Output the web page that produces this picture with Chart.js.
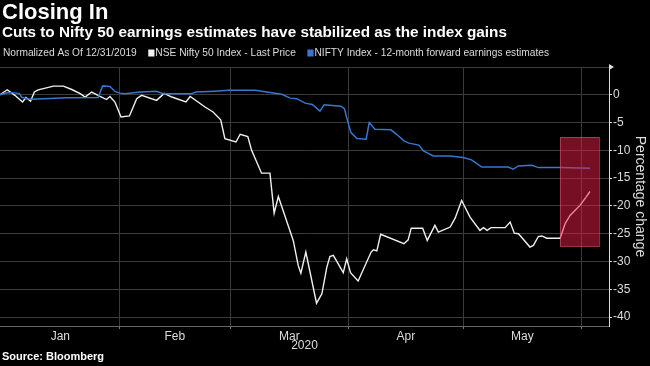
<!DOCTYPE html>
<html>
<head>
<meta charset="utf-8">
<script src="https://cdn.jsdelivr.net/npm/chart.js@4/dist/chart.umd.min.js"></script>
<style>
  html, body { margin: 0; padding: 0; background: #000; }
</style>
</head>
<body>
<canvas id="chart" width="650" height="366"></canvas>
<script>
// x values are days after 12/31/2019
const monthLabels = ["Jan", "Feb", "Mar", "Apr", "May"];
const monthMids = [16.5, 46.5, 76.5, 107, 137.5];
const monthStarts = [32, 61, 92, 122, 153];
const yTickValues = [5, 2.5, 0, -2.5, -5, -7.5, -10, -12.5, -15, -17.5, -20, -22.5, -25, -27.5, -30, -32.5, -35, -37.5, -40];

// NSE Nifty 50 Index - Last Price
const niftyDays = [0.7, 2.6, 4.6, 6.6, 7.5, 8.7, 9.7, 10.7, 14.7, 17.3, 19.5, 21.7, 23.0, 24.7, 26.9, 28.6, 29.5, 30.8,
  32.4, 34.6, 36.5, 37.8, 41.7, 43.7, 45.7, 49.4, 50.5, 54.4, 56.5, 58.5, 59.6, 62.5, 63.6, 65.6, 66.6, 69.2, 71.4,
  72.5, 73.6, 77.5, 78.8, 79.5, 80.8, 83.6, 85.0, 86.3, 87.1, 88.0, 90.6, 91.5, 92.5, 94.5, 97.9, 98.5, 99.4, 100.4,
  106.5, 107.6, 108.4, 111.4, 112.6, 114.6, 115.5, 118.6, 119.9, 121.6, 123.8, 126.4, 127.3, 128.3, 129.3, 133.0,
  134.3, 135.4, 136.5, 139.5, 140.4, 141.7, 142.6, 143.9, 147.4, 148.7, 150.0, 152.6, 154.1, 155.2];
const niftyValues = [0.0, 0.9, -0.1, -1.3, -0.5, -1.15, 0.5, 0.9, 1.55, 1.55, 0.95, 0.2, -0.4, 0.5, -0.3, -0.85, -0.3, -1.3,
  -4.0, -3.8, -0.7, -0.1, -1.0, 0.25, -0.4, -1.3, -0.3, -2.2, -3.1, -4.5, -7.9, -8.5, -7.1, -7.5, -10.0, -14.1, -14.1,
  -21.3, -18.3, -26.2, -30.7, -32.1, -28.3, -37.5, -35.8, -31.0, -29.1, -28.9, -32.0, -29.5, -32.0, -33.5, -28.3, -27.9, -28.1, -25.1,
  -26.8, -26.1, -24.0, -24.0, -26.2, -23.5, -24.7, -23.8, -22.2, -19.0, -22.0, -24.4, -23.9, -24.4, -23.9, -23.9,
  -22.9, -24.9, -25.0, -27.4, -27.1, -25.5, -25.4, -25.8, -25.8, -23.2, -21.7, -19.9, -18.5, -17.4];

// NIFTY Index - 12-month forward earnings estimates
const estDays = [0.7, 2.7, 5.1, 5.8, 6.4, 7.7, 9.0, 18.2, 26.4, 27.6, 29.5, 30.8, 32.1, 33.4, 37.4, 41.6, 43.5, 50.9,
  52.0, 57.0, 60.4, 67.5, 70.6, 74.5, 76.7, 78.4, 80.6, 82.5, 84.5, 85.6, 90.0, 90.9, 91.7, 92.6, 94.2, 96.6, 97.4,
  98.9, 103.1, 104.7, 106.5, 107.8, 110.4, 111.6, 114.2, 118.6, 122.0, 124.2, 125.6, 126.9, 133.8, 135.1, 136.4,
  140.0, 141.7, 147.4, 155.2];
const estValues = [0.0, 0.4, 0.3, 0.2, -0.45, -0.7, -0.8, -0.55, -0.5, 1.6, 1.5, 0.6, 0.3, 0.2, 0.5, 0.65, 0.2, 0.2,
  0.5, 0.65, 0.8, 0.8, 0.5, 0.1, -0.6, -0.7, -1.5, -1.75, -2.95, -1.8, -2.05, -2.5, -4.6, -6.8, -7.85, -8.0, -5.0,
  -6.2, -6.3, -7.2, -8.3, -8.7, -9.05, -10.1, -11.0, -11.0, -11.3, -11.7, -12.4, -13.0, -13.0, -13.4, -12.8,
  -12.7, -13.1, -13.1, -13.2];

// highlighted window at the right
const highlightDays = [147.4, 157.6];
const highlightValues = [-7.6, -27.3];

const GRID = "#3a3a3a";
const TEXT = "#dcdcdc";
const BLUE = "#3777cf";

function toPoints(xs, ys) {
  return xs.map((x, i) => ({ x: x, y: ys[i] }));
}

const framePlugin = {
  id: "frame",
  beforeDraw(chart) {
    const ctx = chart.ctx;
    ctx.save();
    ctx.fillStyle = "#000";
    ctx.fillRect(0, 0, chart.width, chart.height);
    ctx.restore();
  },
  afterDatasetsDraw(chart) {
    const ctx = chart.ctx;
    const xs = chart.scales.x, ys = chart.scales.y;
    const x0 = xs.getPixelForValue(highlightDays[0]);
    const x1 = xs.getPixelForValue(highlightDays[1]);
    const y0 = ys.getPixelForValue(highlightValues[0]);
    const y1 = ys.getPixelForValue(highlightValues[1]);
    ctx.save();
    ctx.fillStyle = "rgba(235, 30, 70, 0.5)";
    ctx.fillRect(x0, y0, x1 - x0, y1 - y0);
    ctx.strokeStyle = "#f0607f";
    ctx.lineWidth = 1;
    ctx.setLineDash([1, 1]);
    ctx.strokeRect(Math.round(x0) + 0.5, Math.round(y0) + 0.5, Math.round(x1 - x0), Math.round(y1 - y0));
    ctx.restore();

    // small arrow at top of the value axis
    const a = chart.chartArea;
    ctx.save();
    ctx.fillStyle = TEXT;
    ctx.beginPath();
    ctx.moveTo(a.right, a.top - 3);
    ctx.lineTo(a.right + 5, a.top);
    ctx.lineTo(a.right, a.top + 3);
    ctx.closePath();
    ctx.fill();
    ctx.restore();
  },
  afterDraw(chart) {
    const ctx = chart.ctx;
    ctx.save();
    ctx.textBaseline = "middle";
    ctx.textAlign = "left";
    ctx.fillStyle = "#fff";
    ctx.font = "bold 22px 'Liberation Sans', sans-serif";
    ctx.fillText("Closing In", 2, 13);
    ctx.font = "bold 15.3px 'Liberation Sans', sans-serif";
    ctx.fillText("Cuts to Nifty 50 earnings estimates have stabilized as the index gains", 2, 33);

    // legend row, squeezed to the narrow look of the original
    ctx.font = "11.5px 'Liberation Sans', sans-serif";
    const note = "Normalized As Of 12/31/2019";
    const items = [["NSE Nifty 50 Index - Last Price", "#f0f0f0"], ["NIFTY Index - 12-month forward earnings estimates", BLUE]];
    const gap = 13, sq = 7;
    let total = ctx.measureText(note).width;
    for (const [label] of items) total += gap + sq + 1 + ctx.measureText(label).width;
    const sx = 546 / total;
    ctx.translate(3, 0);
    ctx.scale(sx, 1);
    const y = 53;
    let x = 0;
    ctx.fillStyle = TEXT;
    ctx.fillText(note, x, y);
    x += ctx.measureText(note).width + gap;
    for (const [label, color] of items) {
      ctx.fillStyle = color;
      ctx.fillRect(x, y - 3.5, sq, 7);
      x += sq + 1;
      ctx.fillStyle = TEXT;
      ctx.fillText(label, x, y);
      x += ctx.measureText(label).width + gap;
    }
    ctx.setTransform(1, 0, 0, 1, 0, 0);

    ctx.fillStyle = "#fff";
    ctx.font = "bold 11px 'Liberation Sans', sans-serif";
    ctx.fillText("Source: Bloomberg", 2, 357);
    ctx.restore();
  }
};

new Chart(document.getElementById("chart"), {
  type: "line",
  data: {
    datasets: [
      {
        label: "NIFTY Index - 12-month forward earnings estimates",
        data: toPoints(estDays, estValues),
        borderColor: BLUE,
        borderWidth: 1.5,
        pointRadius: 0,
        tension: 0
      },
      {
        label: "NSE Nifty 50 Index - Last Price",
        data: toPoints(niftyDays, niftyValues),
        borderColor: "#f0f0f0",
        borderWidth: 1.4,
        pointRadius: 0,
        tension: 0
      }
    ]
  },
  options: {
    responsive: false,
    animation: false,
    layout: { padding: { top: 67, left: 0, right: 0, bottom: 0 } },
    plugins: { legend: { display: false }, tooltip: { enabled: false } },
    scales: {
      x: {
        type: "linear",
        min: 0.7,
        max: 160.2,
        afterBuildTicks: (scale) => {
          scale.ticks = monthStarts.concat(monthMids).map(v => ({ value: v }));
        },
        afterFit: (scale) => { scale.height = 40; },
        grid: {
          color: (c) => monthStarts.includes(c.tick && c.tick.value) ? GRID : "transparent",
          tickColor: (c) => monthStarts.includes(c.tick && c.tick.value) ? "#777" : "transparent",
          tickLength: 3
        },
        border: { color: "#666" },
        ticks: {
          autoSkip: false,
          maxRotation: 0,
          padding: 0,
          color: TEXT,
          font: { family: "'Liberation Sans', sans-serif", size: 12 },
          callback: (v) => {
            const i = monthMids.indexOf(v);
            return i >= 0 ? monthLabels[i] : "";
          }
        },
        title: {
          display: true,
          text: "2020",
          color: TEXT,
          font: { family: "'Liberation Sans', sans-serif", size: 12 },
          padding: { top: 0, bottom: 13 }
        }
      },
      y: {
        type: "linear",
        position: "right",
        min: -41.6,
        max: 5,
        afterBuildTicks: (scale) => {
          scale.ticks = yTickValues.map(v => ({ value: v }));
        },
        afterFit: (scale) => { scale.width = 41; },
        grid: {
          color: (c) => (c.tick && c.tick.value % 5 === 0) ? GRID : "transparent",
          tickColor: TEXT,
          tickLength: 3
        },
        border: { color: TEXT },
        ticks: {
          padding: 1,
          color: TEXT,
          font: { family: "'Liberation Sans', sans-serif", size: 12 },
          callback: (v) => (v % 5 === 0 && v <= 0) ? String(v) : ""
        },
        title: {
          display: true,
          text: "Percentage change",
          color: TEXT,
          font: { family: "'Liberation Sans', sans-serif", size: 14 },
          padding: { top: 2, bottom: 0 }
        }
      }
    }
  },
  plugins: [framePlugin]
});
</script>
</body>
</html>
